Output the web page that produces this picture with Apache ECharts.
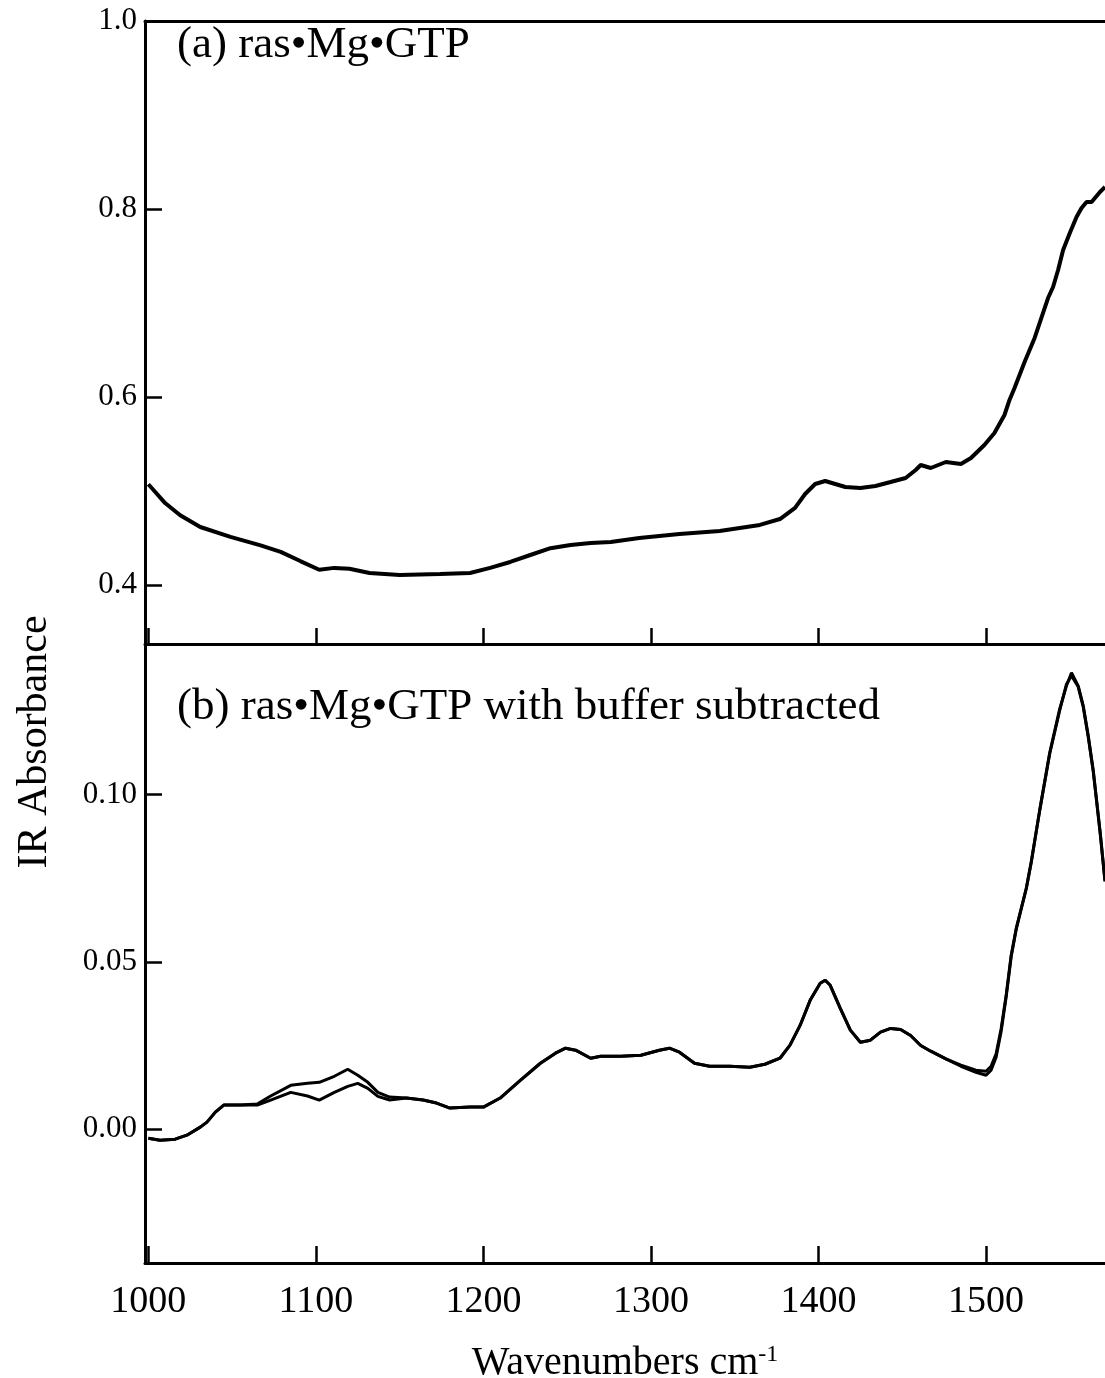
<!DOCTYPE html>
<html><head><meta charset="utf-8">
<script src="https://cdn.jsdelivr.net/npm/echarts@6/dist/echarts.min.js"></script>
<style>html,body{margin:0;padding:0;background:#fff}#c{width:1105px;height:1378px}</style>
</head><body><div id="c"></div>
<script>
// ---- data ----
const topWavenumbers = [1000,1004,1010,1019,1031,1049,1067,1079,1091,1102,1111,1120,1132,1150,1174,1192,1204,1216,1228,1240,1252,1264,1276,1293,1317,1341,1365,1377,1386,1392,1398,1404,1410,1416,1425,1434,1443,1452,1458,1461,1467,1476,1485,1491,1499,1505,1511,1514,1517,1523,1529,1537,1540,1543,1546,1550,1554,1557,1560,1563,1568,1571];
const topAbsorbance = [0.507,0.499,0.487,0.474,0.4615,0.451,0.442,0.435,0.425,0.416,0.418,0.417,0.4126,0.4104,0.4115,0.4126,0.418,0.4243,0.4317,0.439,0.4424,0.4445,0.4456,0.4498,0.454,0.4573,0.4637,0.47,0.4818,0.4966,0.5073,0.5105,0.5073,0.5041,0.503,0.5052,0.5094,0.5137,0.5222,0.5275,0.5243,0.5307,0.5286,0.535,0.5488,0.5616,0.5807,0.5967,0.6094,0.6371,0.6627,0.7052,0.7169,0.735,0.7563,0.7744,0.7914,0.801,0.8074,0.8074,0.818,0.8233];

const bottomWavenumbers = [1000,1007,1016,1023,1031,1035,1040,1045,1055,1065,1073,1085,1095,1102,1111,1119,1125,1131,1137,1144,1154,1164,1172,1180,1192,1200,1210,1222,1234,1243,1249,1255,1264,1270,1282,1294,1305,1311,1317,1326,1335,1347,1359,1368,1377,1383,1389,1395,1401,1404,1407,1413,1419,1425,1431,1437,1443,1449,1455,1461,1467,1476,1485,1494,1500,1503,1506,1509,1512,1515,1518,1521,1524,1527,1532,1538,1544,1548,1551,1555,1558,1561,1564,1568,1571];
const bottomTraceA = [-0.0027,-0.0033,-0.003,-0.0018,0.0006,0.0021,0.0051,0.0072,0.0072,0.0075,0.0099,0.0131,0.0137,0.014,0.0158,0.0179,0.0161,0.014,0.011,0.0096,0.0093,0.0087,0.0078,0.0063,0.0066,0.0066,0.0093,0.0146,0.0197,0.0227,0.0242,0.0236,0.0212,0.0218,0.0218,0.0221,0.0236,0.0242,0.023,0.0197,0.0188,0.0188,0.0185,0.0194,0.0212,0.0251,0.031,0.0385,0.0436,0.0445,0.043,0.0361,0.0296,0.026,0.0266,0.029,0.0301,0.0298,0.028,0.025,0.0233,0.021,0.0191,0.0176,0.0173,0.0188,0.0225,0.03,0.040,0.052,0.060,0.066,0.072,0.080,0.0952,0.1125,0.1257,0.1325,0.1364,0.1325,0.1266,0.1176,0.1072,0.0893,0.0743];
const bottomTraceB = [-0.0027,-0.0033,-0.003,-0.0018,0.0006,0.0021,0.0051,0.0072,0.0072,0.0072,0.0087,0.011,0.0099,0.0087,0.011,0.0128,0.0137,0.0122,0.0098,0.0087,0.0093,0.0087,0.0078,0.0063,0.0066,0.0066,0.0093,0.0146,0.0197,0.0227,0.0242,0.0236,0.0212,0.0218,0.0218,0.0221,0.0236,0.0242,0.023,0.0197,0.0188,0.0188,0.0185,0.0194,0.0212,0.0251,0.031,0.0385,0.0436,0.0445,0.043,0.0361,0.0296,0.026,0.0266,0.029,0.0301,0.0298,0.028,0.025,0.0233,0.021,0.0188,0.017,0.0161,0.0176,0.0215,0.0292,0.0395,0.0515,0.0597,0.0658,0.0718,0.0798,0.0952,0.1122,0.1252,0.133,0.1355,0.1322,0.1262,0.1172,0.1068,0.089,0.074];

const xTicks = [1000,1100,1200,1300,1400,1500];
const topYTicks = [0.4,0.6,0.8,1.0];
const bottomYTicks = [0.00,0.05,0.10];
const panelLabels = ['(a) ras\u2022Mg\u2022GTP', '(b) ras\u2022Mg\u2022GTP with buffer subtracted'];
const xTitle = 'Wavenumbers cm';
const xTitleSup = '-1';
const yTitle = 'IR Absorbance';

// ---- chart ----
const FONT = "'Liberation Serif','Times New Roman',serif";
const zip = (xs, ys) => xs.map((x, i) => [x, ys[i]]);
const chart = echarts.init(document.getElementById('c'), null, {renderer: 'canvas'});
const axisLine = {show: true, onZero: false, lineStyle: {color: '#000', width: 3}};
const tickStyle = {color: '#000', width: 2.5};

const option = {
  animation: false,
  backgroundColor: '#fff',
  grid: [
    {left: 145, right: 0, top: 21, height: 623, containLabel: false, outerBoundsMode: 'none'},
    {left: 145, right: 0, top: 644, height: 619, containLabel: false, outerBoundsMode: 'none'}
  ],
  xAxis: [
    {gridIndex: 0, type: 'value', min: 998, max: 1571, position: 'bottom', axisLine,
      axisTick: {show: true, inside: true, length: 16, lineStyle: tickStyle, customValues: xTicks},
      axisLabel: {show: false}, splitLine: {show: false}},
    {gridIndex: 0, type: 'value', min: 998, max: 1571, position: 'top', axisLine,
      axisTick: {show: false}, axisLabel: {show: false}, splitLine: {show: false}},
    {gridIndex: 1, type: 'value', min: 998, max: 1571, position: 'bottom', axisLine,
      axisTick: {show: true, inside: true, length: 17, lineStyle: tickStyle, customValues: xTicks},
      axisLabel: {show: true, customValues: xTicks, color: '#000', fontFamily: FONT, fontSize: 38, margin: 20,
        formatter: v => String(v)},
      splitLine: {show: false},
      name: '{a|' + xTitle + '}{b|' + xTitleSup + '}', nameLocation: 'middle', nameGap: 80,
      nameTextStyle: {color: '#000', rich: {
        a: {fontFamily: FONT, fontSize: 40, color: '#000'},
        b: {fontFamily: FONT, fontSize: 24, color: '#000', verticalAlign: 'top'}
      }}}
  ],
  yAxis: [
    {gridIndex: 0, type: 'value', min: 0.337, max: 1.0, axisLine,
      axisTick: {show: true, inside: true, length: 17, lineStyle: tickStyle, customValues: topYTicks},
      axisLabel: {show: true, customValues: topYTicks, color: '#000', fontFamily: FONT, fontSize: 31, margin: 8,
        formatter: v => v.toFixed(1)},
      splitLine: {show: false}},
    {gridIndex: 1, type: 'value', min: -0.04, max: 0.145, axisLine,
      axisTick: {show: true, inside: true, length: 17, lineStyle: tickStyle, customValues: bottomYTicks},
      axisLabel: {show: true, customValues: bottomYTicks, color: '#000', fontFamily: FONT, fontSize: 31, margin: 8,
        formatter: v => v.toFixed(2)},
      splitLine: {show: false}}
  ],
  graphic: [
    {type: 'text', x: 177, y: 45, style: {text: panelLabels[0], fontFamily: FONT, fontSize: 45, fill: '#000', verticalAlign: 'middle'}},
    {type: 'text', x: 177, y: 707, style: {text: panelLabels[1], fontFamily: FONT, fontSize: 45, fill: '#000', verticalAlign: 'middle'}},
    {type: 'text', x: 35, y: 742, rotation: Math.PI / 2, style: {text: yTitle, fontFamily: FONT, fontSize: 42, fill: '#000', align: 'center', verticalAlign: 'middle'}}
  ],
  series: [
    {type: 'line', xAxisIndex: 0, yAxisIndex: 0, data: zip(topWavenumbers, topAbsorbance), showSymbol: false,
      lineStyle: {color: '#000', width: 4}},
    {type: 'line', xAxisIndex: 2, yAxisIndex: 1, data: zip(bottomWavenumbers, bottomTraceA), showSymbol: false,
      lineStyle: {color: '#000', width: 3}},
    {type: 'line', xAxisIndex: 2, yAxisIndex: 1, data: zip(bottomWavenumbers, bottomTraceB), showSymbol: false,
      lineStyle: {color: '#000', width: 3}}
  ]
};
chart.setOption(option);
</script></body></html>
